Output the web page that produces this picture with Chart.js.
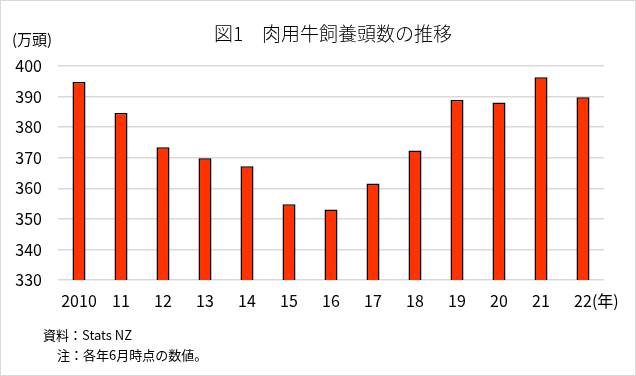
<!DOCTYPE html>
<html>
<head>
<meta charset="utf-8">
<script src="https://cdn.jsdelivr.net/npm/chart.js@4"></script>
<style>
  body { margin: 0; background: #fff; }
  #wrap { width: 636px; height: 376px; position: relative; }
</style>
</head>
<body>
<div id="wrap"><canvas id="myChart" width="636" height="376"></canvas></div>
<script>
// data
const years = ['2010', '11', '12', '13', '14', '15', '16', '17', '18', '19', '20', '21', '22'];
const cattle = [394.8, 384.6, 373.4, 369.8, 367.2, 354.8, 353.1, 361.6, 372.4, 388.9, 388.1, 396.3, 389.8];
const yTicks = [330, 340, 350, 360, 370, 380, 390, 400];

const titleText = '図1　肉用牛飼養頭数の推移';
const unitText = '(万頭)';
const yearUnit = '(年)';
const notes = ['資料：Stats NZ', '注：各年6月時点の数値。'];

const FONT = '"Noto Sans CJK JP", "Noto Sans", sans-serif';

// draws title, unit labels, notes and the outer frame
const extraText = {
  id: 'extraText',
  afterDraw(chart) {
    const ctx = chart.ctx;
    ctx.save();
    ctx.fillStyle = '#000';
    ctx.textBaseline = 'middle';

    ctx.font = '300 19px ' + FONT;
    ctx.textAlign = 'center';
    ctx.fillText(titleText, 333, 34);

    ctx.font = '15px ' + FONT;
    ctx.textAlign = 'left';
    ctx.fillText(unitText, 12, 39);

    // "(年)" after the last tick label
    const xs = chart.scales.x;
    const last = xs.getPixelForTick(years.length - 1);
    ctx.font = '16px ' + FONT;
    const w = ctx.measureText(years[years.length - 1]).width;
    ctx.fillText(yearUnit, last + w / 2, 301);

    ctx.font = '13px ' + FONT;
    ctx.fillText(notes[0], 43, 335);
    ctx.fillText(notes[1], 57, 355);

    ctx.strokeStyle = '#d9d9d9';
    ctx.lineWidth = 1;
    ctx.strokeRect(0.5, 0.5, 635, 375);
    ctx.restore();
  }
};

function initChart(target) {
  return new Chart(target, {
    type: 'bar',
    data: {
      labels: years,
      datasets: [{
        data: cattle,
        backgroundColor: '#ff3300',
        borderColor: '#000',
        borderWidth: 1.5,
        borderSkipped: 'bottom',
        categoryPercentage: 1,
        barPercentage: 0.31
      }]
    },
    options: {
      responsive: false,
      animation: false,
      devicePixelRatio: 1,
      layout: { padding: { top: 66, right: 32, bottom: 0, left: 0 } },
      plugins: {
        legend: { display: false },
        title: { display: false },
        tooltip: { enabled: false }
      },
      scales: {
        x: {
          grid: { display: false, drawTicks: false },
          border: { display: false },
          ticks: {
            color: '#000',
            font: { family: FONT, size: 16 },
            padding: 11,
            maxRotation: 0,
            autoSkip: false
          },
          afterFit: s => { s.height = 96; }
        },
        y: {
          min: 330,
          max: 400,
          afterBuildTicks: s => { s.ticks = yTicks.map(v => ({ value: v })); },
          grid: { color: '#d9d9d9', lineWidth: 1.5, drawTicks: false },
          border: { display: false },
          ticks: {
            color: '#000',
            font: { family: FONT, size: 16 },
            padding: 16
          },
          afterFit: s => { s.width = 58; }
        }
      }
    },
    plugins: [extraText]
  });
}

document.addEventListener('DOMContentLoaded', () => {
  initChart(document.querySelector('#myChart'));
});
</script>
</body>
</html>
